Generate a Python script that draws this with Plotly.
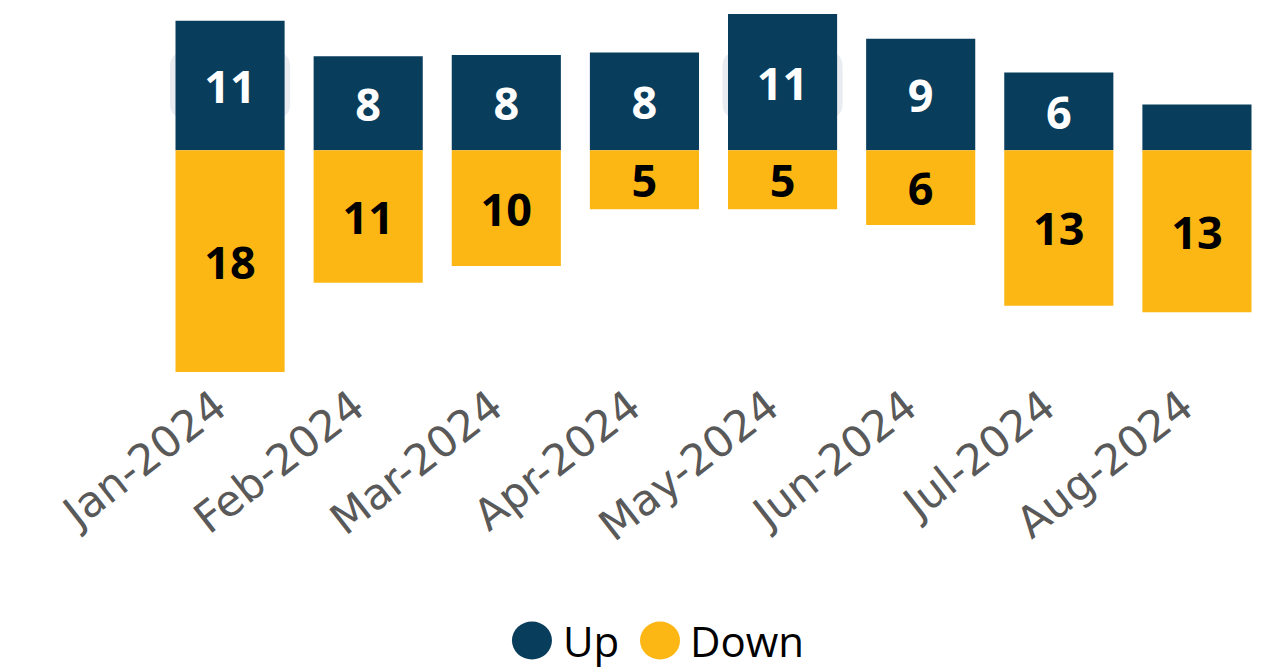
import plotly.graph_objects as go

months = ["Jan-2024", "Feb-2024", "Mar-2024", "Apr-2024", "May-2024", "Jun-2024", "Jul-2024", "Aug-2024"]
up_values = [10.75, 7.8, 7.9, 8.1, 11.3, 9.25, 6.45, 3.8]
down_values = [-18.4, -11.0, -9.6, -4.9, -4.9, -6.2, -12.9, -13.45]
up_labels = ["11", "8", "8", "8", "11", "9", "6", ""]
down_labels = ["18", "11", "10", "5", "5", "6", "13", "13"]
legend_names = ["Up", "Down"]
boxed_months = ["Jan-2024", "May-2024"]

NAVY = "#093d5c"
YELLOW = "#fcb714"
LABEL_FONT = "Open Sans"
TICK_FONT = "DejaVu Sans"

fig = go.Figure()
fig.add_trace(go.Bar(
    x=months, y=up_values, name=legend_names[0], marker=dict(color=NAVY, line=dict(width=0)),
    text=up_labels, textposition="inside", insidetextanchor="middle", textangle=0,
    textfont=dict(family=LABEL_FONT, size=45, color="white", weight="bold"),
    constraintext="none", showlegend=False, hoverinfo="skip",
))
fig.add_trace(go.Bar(
    x=months, y=down_values, name=legend_names[1], marker=dict(color=YELLOW, line=dict(width=0)),
    text=down_labels, textposition="inside", insidetextanchor="middle", textangle=0,
    textfont=dict(family=LABEL_FONT, size=45, color="black", weight="bold"),
    constraintext="none", showlegend=False, hoverinfo="skip",
))

shapes = []
# faint rounded boxes behind the two largest "Up" labels
for m in boxed_months:
    i = months.index(m)
    x0, x1 = i - 0.435, i + 0.435
    y0, y1 = 2.7, 8.1
    rx, ry = 0.1, 1.2
    path = (f"M {x0+rx},{y0} L {x1-rx},{y0} Q {x1},{y0} {x1},{y0+ry} "
            f"L {x1},{y1-ry} Q {x1},{y1} {x1-rx},{y1} L {x0+rx},{y1} Q {x0},{y1} {x0},{y1-ry} "
            f"L {x0},{y0+ry} Q {x0},{y0} {x0+rx},{y0} Z")
    shapes.append(dict(type="path", xref="x", yref="y", path=path, layer="below",
                       fillcolor="#e9edf1", line=dict(width=0)))

# custom legend: big circles + text, placed below the plot area (paper coords)
leg_y = -0.75
annotations = []
for cx, tx, col, name in [(0.3357, 0.3620, NAVY, legend_names[0]), (0.4516, 0.4769, YELLOW, legend_names[1])]:
    shapes.append(dict(type="circle", xref="paper", yref="paper", xsizemode="pixel", ysizemode="pixel",
                       xanchor=cx, yanchor=leg_y, x0=-20, x1=20, y0=-19, y1=19,
                       fillcolor=col, line=dict(width=0)))
    annotations.append(dict(xref="paper", yref="paper", x=tx, y=leg_y, xanchor="left", yanchor="middle",
                            showarrow=False, text=name,
                            font=dict(family="Open Sans", size=42, color="black")))

fig.update_layout(
    barmode="relative",
    bargap=0.21,
    width=1281, height=671,
    margin=dict(l=161, r=15, t=14, b=299),
    paper_bgcolor="white", plot_bgcolor="white",
    showlegend=False,
    xaxis=dict(tickangle=-38, tickfont=dict(family=TICK_FONT, size=43, color="#595959"),
               ticklabelshift=-14,
               showgrid=False, zeroline=False, showline=False, ticks="", automargin=False),
    yaxis=dict(range=[-18.4, 11.3], visible=False, showgrid=False, zeroline=False),
    shapes=shapes,
    annotations=annotations,
)

fig.write_html("out.html", config={"displayModeBar": False},
               post_script="document.body.style.margin='0';")
